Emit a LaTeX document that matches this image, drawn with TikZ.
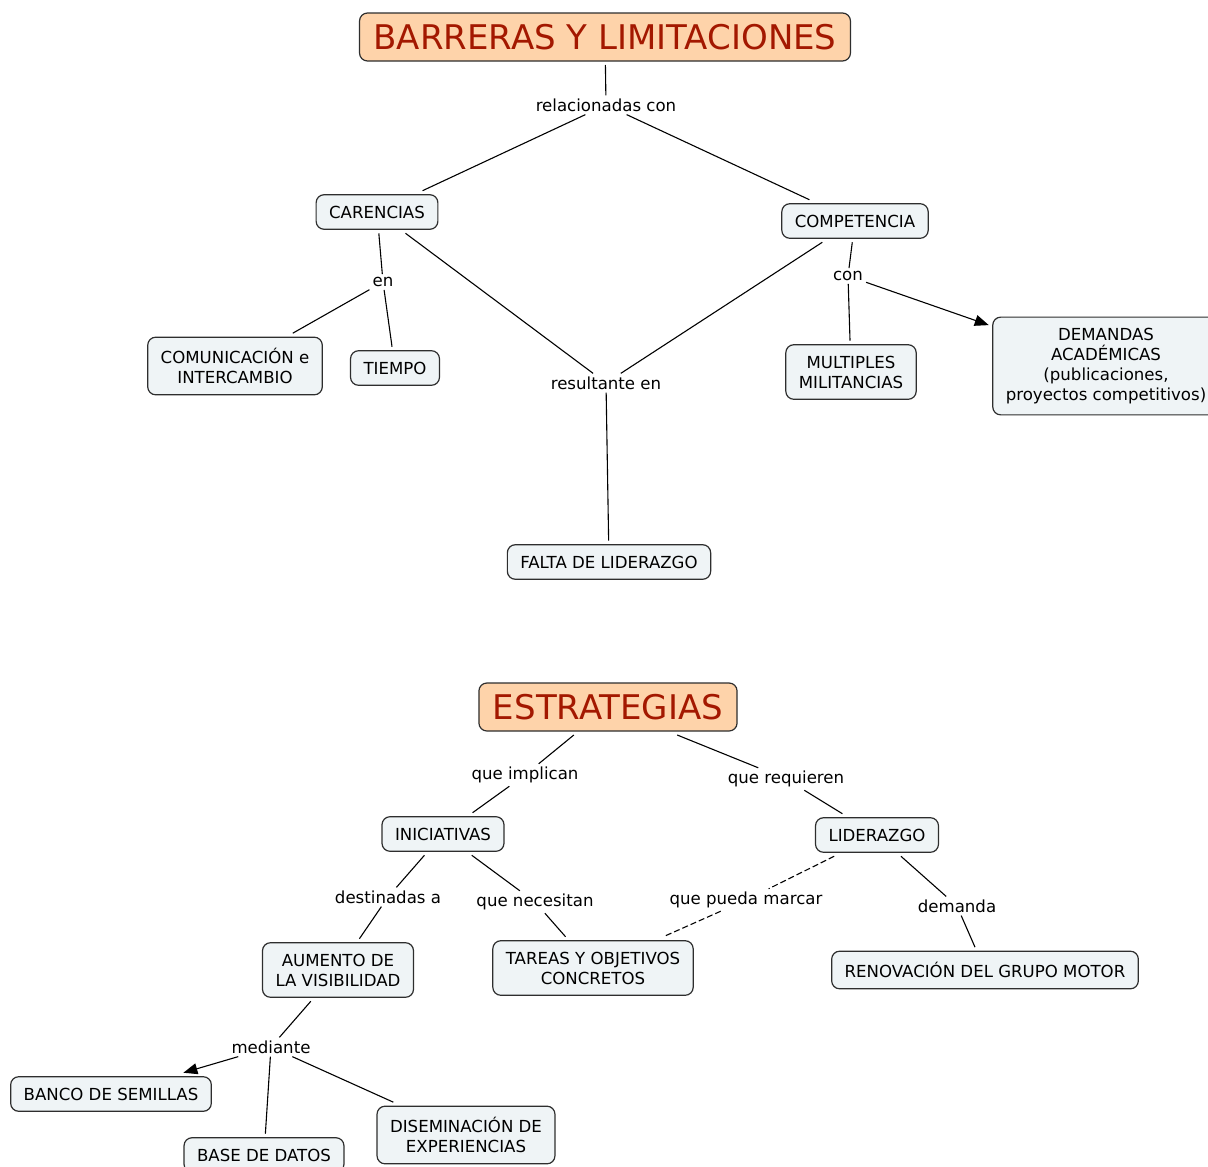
\documentclass[tikz,border=0pt]{standalone}
\usepackage{fontspec}
\setmainfont{DejaVu Sans}
\usetikzlibrary{arrows.meta}
\definecolor{peach}{HTML}{FED3AA}
\definecolor{titlered}{HTML}{A31800}
\definecolor{boxfill}{HTML}{EFF4F6}
\definecolor{boxline}{HTML}{2E2E2E}
\tikzset{
  concept/.style={draw=boxline, line width=1.2pt, rounded corners=8pt, fill=boxfill,
    align=center, inner xsep=13pt, inner ysep=11pt, minimum height=33pt, outer sep=4pt,
    font=\fontsize{16.6}{20}\selectfont},
  topic/.style={concept, fill=peach, text=titlered, minimum height=48pt, inner xsep=14pt,
    font=\fontsize{34}{40}\selectfont},
  linkword/.style={inner xsep=3pt, inner ysep=3pt, font=\fontsize{16.6}{20}\selectfont},
  link/.style={draw=black, line width=1.1pt},
  arrowlink/.style={link, -{Triangle[length=14pt,width=11pt]}},
  dashlink/.style={link, dash pattern=on 6pt off 3pt}
}
\begin{document}
\begin{tikzpicture}[x=1pt,y=-1pt]
  \useasboundingbox (0,0) rectangle (1208,1167);

  \node[topic] (barreras) at (605,37) {BARRERAS Y LIMITACIONES};
  \node[linkword] (relac) at (606,105) {relacionadas con};
  \node[concept] (carencias) at (377,212) {CARENCIAS};
  \node[concept] (competencia) at (855,221) {COMPETENCIA};
  \node[linkword] (en) at (383,282) {en};
  \node[concept] (comunic) at (235,366) {COMUNICACIÓN e\\INTERCAMBIO};
  \node[concept] (tiempo) at (395,368) {TIEMPO};
  \node[linkword] (result) at (606,383) {resultante en};
  \node[concept] (falta) at (609,562) {FALTA DE LIDERAZGO};
  \node[linkword] (con) at (848,276) {con};
  \node[concept] (multiples) at (851,372) {MULTIPLES\\MILITANCIAS};
  \node[concept] (demandas) at (1106,366) {DEMANDAS\\ACADÉMICAS\\(publicaciones,\\proyectos competitivos)};

  \draw[link] (barreras) -- (relac);
  \draw[link] (relac) -- (carencias);
  \draw[link] (relac) -- (competencia);
  \draw[link] (carencias) -- (en);
  \draw[link] (en) -- (comunic);
  \draw[link] (en) -- (tiempo);
  \draw[link] (carencias) -- (result);
  \draw[link] (competencia) -- (result);
  \draw[link] (result) -- (falta);
  \draw[link] (competencia) -- (con);
  \draw[link] (con) -- (multiples);
  \draw[arrowlink] (con) -- (demandas);

  \node[topic] (estrategias) at (608,707) {ESTRATEGIAS};
  \node[linkword] (implican) at (525,775) {que implican};
  \node[linkword] (requieren) at (786,779) {que requieren};
  \node[concept] (iniciativas) at (443,834) {INICIATIVAS};
  \node[concept] (liderazgo) at (877,835) {LIDERAZGO};
  \node[linkword] (destinadas) at (388,897) {destinadas a};
  \node[linkword] (necesitan) at (535,902) {que necesitan};
  \node[linkword] (marcar) at (746,900) {que pueda marcar};
  \node[linkword] (demanda) at (957,906) {demanda};
  \node[concept] (aumento) at (338,970) {AUMENTO DE\\LA VISIBILIDAD};
  \node[concept] (tareas) at (593,968) {TAREAS Y OBJETIVOS\\CONCRETOS};
  \node[concept] (renovacion) at (985,970) {RENOVACIÓN DEL GRUPO MOTOR};
  \node[linkword] (mediante) at (271,1047) {mediante};
  \node[concept] (banco) at (111,1094) {BANCO DE SEMILLAS};
  \node[concept] (base) at (264,1155) {BASE DE DATOS};
  \node[concept] (disemin) at (466,1135) {DISEMINACIÓN DE\\EXPERIENCIAS};

  \draw[link] (estrategias) -- (implican);
  \draw[link] (implican) -- (iniciativas);
  \draw[link] (estrategias) -- (requieren);
  \draw[link] (requieren) -- (liderazgo);
  \draw[link] (iniciativas) -- (destinadas);
  \draw[link] (destinadas) -- (aumento);
  \draw[link] (iniciativas) -- (necesitan);
  \draw[link] (necesitan) -- (tareas);
  \draw[dashlink] (liderazgo) -- (marcar);
  \draw[dashlink] (marcar) -- (tareas);
  \draw[link] (liderazgo) -- (demanda);
  \draw[link] (demanda) -- (renovacion);
  \draw[link] (aumento) -- (mediante);
  \draw[arrowlink] (mediante) -- (banco);
  \draw[link] (mediante) -- (base);
  \draw[link] (mediante) -- (disemin);
\end{tikzpicture}
\end{document}
